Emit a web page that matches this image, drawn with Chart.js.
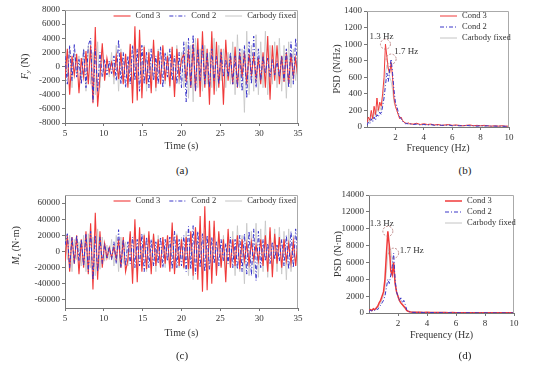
<!DOCTYPE html>
<html>
<head>
<meta charset="utf-8">
<script src="https://cdn.jsdelivr.net/npm/chart.js@4.4.0/dist/chart.umd.min.js"></script>
<style>
  body { margin: 0; background: #fff; width: 554px; height: 376px; position: relative; overflow: hidden; font-family: "Liberation Serif", serif; }
  canvas { position: absolute; }
  .cap { position: absolute; font-size: 11px; color: #222; transform: translate(-50%, -50%); }
</style>
</head>
<body>
<canvas id="cA" width="330" height="160" style="left:0;top:0"></canvas>
<canvas id="cB" width="224" height="160" style="left:330px;top:0"></canvas>
<canvas id="cC" width="330" height="175" style="left:0;top:185px"></canvas>
<canvas id="cD" width="224" height="175" style="left:330px;top:185px"></canvas>
<div class="cap" style="left:182px;top:170px">(a)</div>
<div class="cap" style="left:465px;top:170px">(b)</div>
<div class="cap" style="left:182px;top:355px">(c)</div>
<div class="cap" style="left:465px;top:355px">(d)</div>
<script>
// time axis (s)
const times = [5,5.3,5.6,5.9,6.2,6.5,6.8,7.1,7.4,7.7,
  8,8.3,8.6,8.9,9.2,9.5,9.8,10.1,10.4,10.7,
  11,11.3,11.6,11.9,12.2,12.5,12.8,13.1,13.4,13.7,
  14,14.3,14.6,14.9,15.2,15.5,15.8,16.1,16.4,16.7,
  17,17.3,17.6,17.9,18.2,18.5,18.8,19.1,19.4,19.7,
  20,20.3,20.6,20.9,21.2,21.5,21.8,22.1,22.4,22.7,
  23,23.3,23.6,23.9,24.2,24.5,24.8,25.1,25.4,25.7,
  26,26.3,26.6,26.9,27.2,27.5,27.8,28.1,28.4,28.7,
  29,29.3,29.6,29.9,30.2,30.5,30.8,31.1,31.4,31.7,
  32,32.3,32.6,32.9,33.2,33.5,33.8,34.1,34.4,34.7,
  35];

// (a) Fy (N)
const fyCond3 = [-1800,2500,-4000,1500,-1200,1800,-3800,1200,-1500,2200,
  -2500,3000,-5200,5600,-5700,-1500,3300,-2000,1200,-800,
  600,-1200,1500,-1800,2000,-2500,1800,-3000,3200,-5200,
  5700,-4800,5200,-4500,2800,-2500,2000,-3800,3800,-3000,
  2200,-2500,3000,-2000,1500,-2800,2800,-4300,2500,-1500,
  1000,1800,-2200,2500,-3000,3200,-3500,4000,-4300,5000,
  -3000,2500,-5400,5000,-4000,3500,-3000,2500,-5400,3800,
  -2000,1500,-2500,2800,-3000,2000,-1500,2000,-2500,1800,
  -1200,1500,-1800,1200,-2500,2000,-3000,4300,-4700,3000,
  -2000,3000,-2500,1500,-2200,2000,-2500,1800,-1500,1200,
  -1800];
const fyCond2 = [1500,-2500,3000,-2000,3200,-1500,1000,-2500,2500,-3000,
  3000,4000,-5000,2500,-3500,2000,-1500,1000,-1200,800,
  -1000,1500,-2000,3800,-2500,2000,-3000,1500,-2500,3000,
  -2000,2500,-3500,3000,-2500,2000,-3000,2500,-2000,1500,
  -2500,2800,-3000,2000,-1500,2500,-2000,1500,-2500,2000,
  -3000,3500,-5000,4000,-3000,4500,-3500,2500,-2000,3000,
  -2500,2000,-3000,2500,-2000,1500,-2500,2000,-1500,1000,
  -1500,2000,-2500,1500,-3000,2500,-3500,3000,-4500,3500,
  -2500,4300,-3000,2500,-2000,1500,-1000,1200,-1500,1000,
  -1200,800,-1500,1500,-2000,2500,-3000,3500,-2500,4000,
  -1500];
const fyFixed = [2000,-1500,2500,-3000,2000,-1000,1500,-2000,2500,-3500,
  3000,-2500,2000,-4000,3500,-3000,2500,-1500,1000,-1500,
  2000,-2500,3000,-3500,2500,-2000,1500,-2500,3000,-3500,
  4000,-3000,2500,-2000,3000,-3500,2500,-2000,3000,-3500,
  2500,-2000,1500,-2500,2000,-3000,2500,-3500,3000,-2500,
  2000,-3000,3500,-4500,3000,-5000,4000,-3000,2500,-3500,
  3000,-2500,2000,-3000,4000,-3500,3000,-2000,2500,-3000,
  2000,-2500,3500,-4000,4500,-3000,2500,-6500,5000,-4000,
  3000,-3500,4500,-4000,3500,-3000,5000,-4000,3000,-2500,
  3500,-3000,4000,-3500,3000,-4500,3500,-3000,2500,-2000,
  1500];

// (c) Mz (N·m)
const mzCond3 = [-12000,20000,-25000,18000,-15000,20000,-28000,15000,-20000,25000,
  -28000,35000,-47000,48000,-35000,25000,-20000,10000,-8000,5000,
  -8000,6000,-10000,15000,-20000,18000,-25000,-10000,25000,-40000,
  40000,-38000,30000,-25000,20000,-22000,25000,-28000,22000,-18000,
  15000,-20000,18000,-15000,20000,-25000,36000,-28000,20000,-18000,
  15000,-20000,18000,-22000,25000,-30000,30000,-35000,44000,-50000,
  56000,-48000,38000,-40000,38000,-30000,25000,-20000,15000,-38000,
  28000,-20000,15000,-18000,20000,-22000,15000,-12000,10000,-15000,
  12000,-10000,8000,-12000,15000,-18000,20000,-25000,30000,-32000,
  22000,-15000,18000,-20000,15000,-12000,10000,-15000,12000,-18000,
  15000];
const mzCond2 = [8000,22000,-20000,18000,-15000,20000,-12000,15000,-18000,22000,
  -25000,25000,-35000,20000,-25000,18000,-15000,10000,-8000,6000,
  -10000,12000,-15000,27000,-20000,15000,-18000,12000,-15000,18000,
  -20000,15000,-18000,22000,-25000,18000,-20000,15000,-18000,12000,
  -15000,18000,-20000,15000,-12000,18000,-22000,25000,-20000,15000,
  -18000,20000,-25000,31000,-22000,32000,-28000,25000,-20000,22000,
  -25000,20000,-22000,18000,-15000,12000,-18000,15000,-12000,10000,
  -15000,18000,-20000,15000,-22000,20000,-25000,22000,-28000,25000,
  -30000,28000,-36000,25000,-20000,15000,-12000,10000,-15000,12000,
  -10000,8000,-12000,15000,-18000,20000,-22000,25000,-20000,28000,
  -12000];
const mzFixed = [15000,-10000,20000,-25000,15000,-10000,12000,-18000,20000,-25000,
  22000,-20000,18000,-30000,28000,-22000,18000,-12000,8000,-10000,
  15000,-18000,20000,-25000,18000,-15000,12000,-18000,22000,-28000,
  30000,-25000,20000,-18000,22000,-25000,20000,-18000,22000,-25000,
  20000,-18000,15000,-20000,18000,-22000,20000,-25000,22000,-20000,
  18000,-22000,25000,-30000,22000,-35000,30000,-25000,20000,-28000,
  25000,-20000,18000,-22000,30000,-28000,22000,-18000,20000,-22000,
  18000,-20000,25000,-30000,32000,-25000,20000,-40000,35000,-30000,
  25000,-28000,35000,-32000,28000,-25000,38000,-32000,25000,-22000,
  28000,-25000,30000,-28000,25000,-35000,28000,-25000,20000,-18000,
  12000];

// frequency axis (Hz)
const freqs = [0,0.1,0.2,0.3,0.4,0.5,0.6,0.7,0.8,0.9,
  1,1.1,1.2,1.3,1.4,1.5,1.6,1.7,1.8,1.9,
  2,2.1,2.2,2.3,2.4,2.5,2.6,2.7,2.8,2.9,3,
  3.25,3.5,3.75,4,4.25,4.5,4.75,5,5.25,5.5,5.75,6,6.25,6.5,6.75,
  7,7.25,7.5,7.75,8,8.25,8.5,8.75,9,9.25,9.5,9.75,10];

// (b) PSD of Fy
const psdFyCond3 = [50,120,80,200,100,250,150,350,200,300,
  250,400,600,1000,850,700,650,780,600,350,
  250,200,150,100,120,80,60,50,40,50,40,
  35,45,30,40,30,35,25,30,20,25,30,20,25,20,15,20,25,15,20,15,20,15,10,15,10,15,10,10];
const psdFyCond2 = [20,60,40,100,60,120,80,150,120,180,
  150,250,350,500,650,550,700,820,650,450,
  300,250,180,120,100,70,50,40,45,35,40,
  30,35,25,30,25,30,20,25,20,20,25,15,20,15,15,20,15,15,10,15,10,15,10,10,10,10,8,8];
const psdFyFixed = [30,80,60,150,90,180,120,220,180,250,
  200,300,450,650,750,700,600,550,450,300,
  250,200,150,130,100,80,60,50,40,45,35,
  30,35,25,30,25,25,20,25,20,20,20,15,20,15,15,15,15,15,10,15,10,10,10,10,10,10,8,8];

// (d) PSD of Mz
const psdMzCond3 = [300,400,300,500,400,600,800,1200,1500,2000,
  2500,4000,7000,9700,8000,5000,4500,6000,3500,2500,
  2000,1500,1200,1000,800,600,300,200,150,120,100,
  80,100,70,80,60,70,50,60,50,40,50,40,40,30,40,30,30,25,30,25,20,25,20,20,15,20,15,15];
const psdMzCond2 = [200,300,250,400,300,500,400,700,900,1200,
  1500,2000,3000,4000,3500,4500,5500,7100,4000,2500,
  2000,1500,1800,1200,1500,1000,400,200,150,100,80,
  70,80,60,60,50,60,40,50,40,40,35,30,35,30,30,25,25,20,25,20,20,15,15,15,15,10,10,10];
const psdMzFixed = [250,350,300,450,350,550,600,900,1200,1600,
  2000,3000,5000,7000,8000,7500,6000,5000,3500,2500,
  1800,1400,1100,900,700,500,300,200,150,100,90,
  80,80,60,70,50,60,45,50,40,40,40,30,35,30,30,25,25,20,25,20,20,15,15,15,15,10,10,10];

// tick labels
const timeTicks = [5,10,15,20,25,30,35];
const freqTicks = [2,4,6,8,10];
const fyTicks = [-8000,-6000,-4000,-2000,0,2000,4000,6000,8000];
const mzTicks = [-60000,-40000,-20000,0,20000,40000,60000];
const psdFyTicks = [0,200,400,600,800,1000,1200,1400];
const psdMzTicks = [0,2000,4000,6000,8000,10000,12000,14000];

const seriesNames = ["Cond 3", "Cond 2", "Carbody fixed"];
const FONT = "Liberation Serif";

function pts(xs, ys) {
  return xs.map((x, i) => ({ x: x, y: ys[i] }));
}

function lineSets(xs, c3, c2, fx, redWidth) {
  return [
    { label: seriesNames[0], data: pts(xs, c3), borderColor: "#f03a3a", borderWidth: redWidth, order: 2 },
    { label: seriesNames[1], data: pts(xs, c2), borderColor: "#3a36c8", borderWidth: 1, borderDash: [4, 2, 1, 2], order: 1 },
    { label: seriesNames[2], data: pts(xs, fx), borderColor: "#c4c4c4", borderWidth: 0.8, order: 3 },
  ];
}

function axis(min, max, ticks, fitFn) {
  return {
    type: "linear",
    min: min,
    max: max,
    afterBuildTicks: (s) => { s.ticks = ticks.map((v) => ({ value: v })); },
    afterFit: fitFn,
    grid: { drawOnChartArea: false, drawTicks: true, tickLength: 3, color: "#777" },
    border: { color: "#777", width: 1 },
    ticks: { font: { family: FONT, size: 9 }, color: "#333", padding: 2, autoSkip: false, maxRotation: 0, callback: (v) => String(v) },
  };
}

// frame, axis titles, inner legend, peak marks
const decor = {
  id: "decor",
  afterDraw(chart, args, o) {
    const ctx = chart.ctx;
    const a = chart.chartArea;
    ctx.save();
    ctx.strokeStyle = "#aaa";
    ctx.lineWidth = 1;
    ctx.beginPath();
    ctx.moveTo(a.left, a.top + 0.5);
    ctx.lineTo(a.right - 0.5, a.top + 0.5);
    ctx.lineTo(a.right - 0.5, a.bottom);
    ctx.stroke();

    ctx.fillStyle = "#333";
    ctx.font = "10px " + FONT;
    ctx.textAlign = "center";
    ctx.textBaseline = "middle";
    ctx.fillText(o.xTitle, (a.left + a.right) / 2, a.bottom + o.xTitleDy);

    // rotated y title with subscript pieces
    ctx.save();
    ctx.translate(o.yTitleX, (a.top + a.bottom) / 2 + (o.yTitleDy || 0));
    ctx.rotate(-Math.PI / 2);
    let total = 0;
    o.yTitle.forEach((p) => {
      ctx.font = (p.italic ? "italic " : "") + (p.sub ? 7 : 10) + "px " + FONT;
      total += ctx.measureText(p.t).width;
    });
    let x = -total / 2;
    ctx.textAlign = "left";
    o.yTitle.forEach((p) => {
      ctx.font = (p.italic ? "italic " : "") + (p.sub ? 7 : 10) + "px " + FONT;
      ctx.fillText(p.t, x, p.sub ? 3 : 0);
      x += ctx.measureText(p.t).width;
    });
    ctx.restore();

    // legend
    const lg = o.legend;
    ctx.font = "8.5px " + FONT;
    ctx.textAlign = "left";
    let lx = lg.x, ly = lg.y;
    if (lg.row) {
      // right-align the row inside the frame
      let w = 0;
      chart.data.datasets.forEach((ds) => { w += lg.len + 5 + ctx.measureText(ds.label).width + lg.gap; });
      lx = a.right - 2 - (w - lg.gap);
    }
    chart.data.datasets.forEach((ds) => {
      ctx.strokeStyle = ds.borderColor;
      ctx.lineWidth = Math.max(ds.borderWidth, 1);
      ctx.setLineDash(ds.borderDash || []);
      ctx.beginPath();
      ctx.moveTo(lx, ly);
      ctx.lineTo(lx + lg.len, ly);
      ctx.stroke();
      ctx.setLineDash([]);
      ctx.fillStyle = "#333";
      ctx.fillText(ds.label, lx + lg.len + 5, ly);
      if (lg.row) {
        lx += lg.len + 5 + ctx.measureText(ds.label).width + lg.gap;
      } else {
        ly += lg.gap;
      }
    });

    // peak marks
    (o.marks || []).forEach((m) => {
      const px = chart.scales.x.getPixelForValue(m.x);
      const py = chart.scales.y.getPixelForValue(m.y);
      ctx.strokeStyle = "#b07070";
      ctx.lineWidth = 0.8;
      ctx.setLineDash([2, 1.5]);
      ctx.beginPath();
      ctx.arc(px, py, 5, 0, Math.PI * 2);
      ctx.stroke();
      ctx.setLineDash([]);
      ctx.fillStyle = "#333";
      ctx.font = "9px " + FONT;
      ctx.fillText(m.label, px + m.dx, py + m.dy);
    });
    ctx.restore();
  },
};

function makeChart(id, cfg) {
  new Chart(document.getElementById(id), {
    type: "line",
    data: { datasets: cfg.datasets },
    options: {
      responsive: false,
      animation: false,
      layout: { padding: cfg.padding },
      elements: { point: { radius: 0 }, line: { tension: 0 } },
      scales: { x: cfg.x, y: cfg.y },
      plugins: { legend: { display: false }, tooltip: { enabled: false }, decor: cfg.decor },
    },
    plugins: [decor],
  });
}

makeChart("cA", {
  datasets: lineSets(times, fyCond3, fyCond2, fyFixed, 1.1),
  padding: { left: 0, top: 10, right: 32, bottom: 0 },
  x: axis(5, 35, timeTicks, (s) => { s.height = 37; }),
  y: axis(-8000, 8000, fyTicks, (s) => { s.width = 65; }),
  decor: {
    xTitle: "Time (s)", xTitleDy: 23, yTitleX: 25,
    yTitle: [{ t: "F", italic: true }, { t: "y", italic: true, sub: true }, { t: " (N)" }],
    legend: { row: true, x: 0, y: 16, len: 17, gap: 9 },
  },
});

makeChart("cB", {
  datasets: lineSets(freqs, psdFyCond3, psdFyCond2, psdFyFixed, 1),
  padding: { left: 0, top: 11, right: 45, bottom: 0 },
  x: axis(0, 10, freqTicks, (s) => { s.height = 33; }),
  y: axis(0, 1400, psdFyTicks, (s) => { s.width = 37; }),
  decor: {
    xTitle: "Frequency (Hz)", xTitleDy: 21, yTitleX: 7,
    yTitle: [{ t: "PSD (N/Hz)" }],
    legend: { row: false, x: 110, y: 16, len: 17, gap: 11 },
    marks: [
      { x: 1.3, y: 1000, label: "1.3 Hz", dx: -16, dy: -8 },
      { x: 1.7, y: 820, label: "1.7 Hz", dx: 3, dy: -7 },
    ],
  },
});

makeChart("cC", {
  datasets: lineSets(times, mzCond3, mzCond2, mzFixed, 1.1),
  padding: { left: 0, top: 10, right: 32, bottom: 0 },
  x: axis(5, 35, timeTicks, (s) => { s.height = 52; }),
  y: axis(-70000, 70000, mzTicks, (s) => { s.width = 65; }),
  decor: {
    xTitle: "Time (s)", xTitleDy: 25, yTitleX: 16, yTitleDy: -6,
    yTitle: [{ t: "M", italic: true }, { t: "z", italic: true, sub: true }, { t: " (N·m)" }],
    legend: { row: true, x: 0, y: 16, len: 17, gap: 9 },
  },
});

makeChart("cD", {
  datasets: lineSets(freqs, psdMzCond3, psdMzCond2, psdMzFixed, 1.5),
  padding: { left: 0, top: 10, right: 40, bottom: 0 },
  x: axis(0, 10, freqTicks, (s) => { s.height = 47; }),
  y: axis(0, 14000, psdMzTicks, (s) => { s.width = 39; }),
  decor: {
    xTitle: "Frequency (Hz)", xTitleDy: 22, yTitleX: 8,
    yTitle: [{ t: "PSD (N·m)" }],
    legend: { row: false, x: 115, y: 16, len: 17, gap: 11 },
    marks: [
      { x: 1.3, y: 9700, label: "1.3 Hz", dx: -18, dy: -8 },
      { x: 1.7, y: 7100, label: "1.7 Hz", dx: 6, dy: -3 },
    ],
  },
});
</script>
</body>
</html>
